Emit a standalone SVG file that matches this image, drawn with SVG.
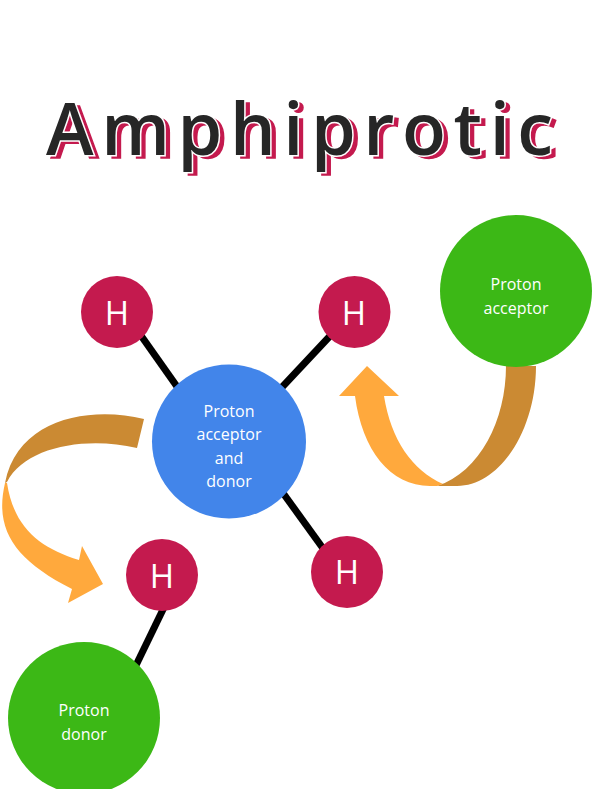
<svg xmlns="http://www.w3.org/2000/svg" width="592" height="789" viewBox="0 0 592 789">
<style>
.lbl{font-family:"Open Sans","Liberation Sans",sans-serif;font-size:16px;fill:#fff;text-anchor:middle}
.h{font-family:"Open Sans","Liberation Sans",sans-serif;font-size:33px;fill:#fff;text-anchor:middle}
.bond{stroke:#000;stroke-width:7;fill:none}
.ttl{font-family:"Open Sans","Liberation Sans",sans-serif;font-weight:650;font-size:72px;letter-spacing:7.6px}
.hcirc{fill:#c41a4e}
.grn{fill:#3cb816}
.dk{fill:#cb8a33}
.lt{fill:#ffa93d}
</style>
<rect width="592" height="789" fill="#fff"/>
<g id="title">
<text class="ttl" x="51" y="158" fill="#c41a4e" stroke="#c41a4e" stroke-width="1.500">Amphiprotic</text>
<text class="ttl" x="46" y="155" fill="#262626" stroke="#fff" stroke-width="3" paint-order="stroke">Amphiprotic</text>
</g>
<g id="connectors">
<path class="bond" d="M130 320L190 405"/>
<path class="bond" d="M345 320L270 400"/>
<path class="bond" d="M270 475L335 565"/>
<path class="bond" d="M170 595L125 688"/>
<path class="dk" d="M506 366H536C536 430 500 486 457 486H437C480 472 506 420 506 366Z"/>
<path class="lt" d="M367 366L399 396H384C391 440 412 470 443 484L437 486H430C390 486 362 450 355 396H339Z"/>
<path class="dk" d="M144 419C90 406 18 418 5 483L7 482C25 447 85 436 137 448Z"/>
<path class="lt" d="M5 483C-6 530 15 560 72 589L68 603L103 584L82 546L79 560C40 548 14 528 7 483Z"/>
</g>
<g id="node-center"><circle cx="229" cy="441.500" r="77" fill="#4285ea"/>
<text class="lbl" x="229" y="417">Proton</text><text class="lbl" x="229" y="440">acceptor</text><text class="lbl" x="229" y="464">and</text><text class="lbl" x="229" y="487">donor</text></g>
<g id="node-h1"><circle class="hcirc" cx="117" cy="312" r="36"/><text class="h" x="117" y="325">H</text></g>
<g id="node-h2"><circle class="hcirc" cx="354.500" cy="312" r="36"/><text class="h" x="354" y="325">H</text></g>
<g id="node-h3"><circle class="hcirc" cx="347" cy="572" r="36"/><text class="h" x="347" y="584">H</text></g>
<g id="node-h4"><circle class="hcirc" cx="162" cy="575" r="36"/><text class="h" x="162" y="588">H</text></g>
<g id="node-acceptor"><circle class="grn" cx="516" cy="291" r="76"/>
<text class="lbl" x="516" y="290">Proton</text><text class="lbl" x="516" y="314">acceptor</text></g>
<g id="node-donor"><circle class="grn" cx="84" cy="718" r="76"/>
<text class="lbl" x="84" y="716">Proton</text><text class="lbl" x="84" y="740">donor</text></g>
</svg>
